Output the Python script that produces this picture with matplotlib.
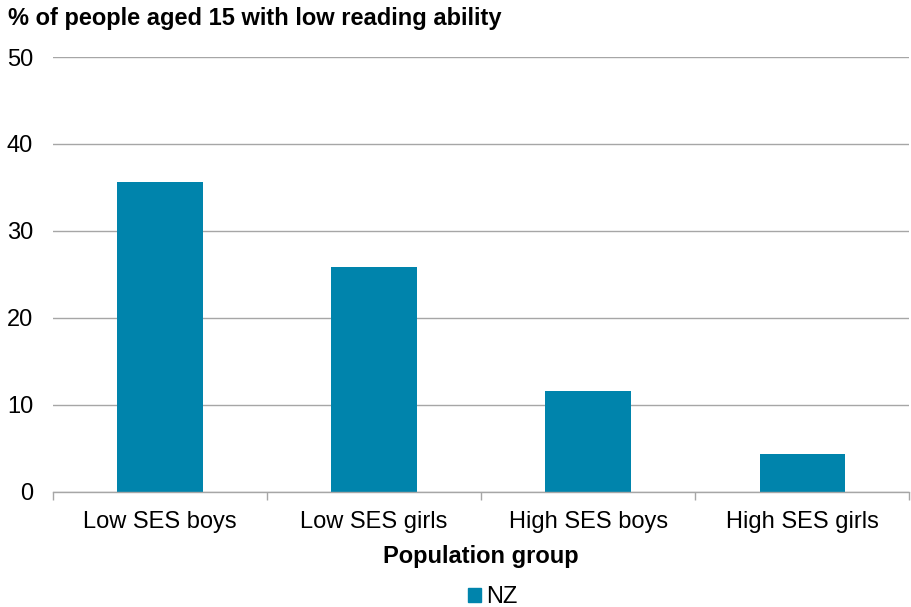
import matplotlib
matplotlib.use("Agg")
import matplotlib.pyplot as plt
import numpy as np
from matplotlib.patches import Rectangle

categories = ["Low SES boys", "Low SES girls", "High SES boys", "High SES girls"]
nz_values = [35.6, 25.8, 11.6, 4.3]
y_ticks = [0, 10, 20, 30, 40, 50]

plt.rcParams["font.family"] = ["Liberation Sans", "DejaVu Sans"]

bar_color = "#0084AC"
grid_color = "#A6A6A6"

fig = plt.figure(figsize=(9.11, 6.07), dpi=100)
ax = fig.add_axes([0.0582, 0.190, 0.940, 0.716])

x = np.arange(len(categories))
ax.bar(x, nz_values, width=0.40, color=bar_color, zorder=3, label="NZ")

ax.set_xlim(-0.5, len(categories) - 0.5)
ax.set_ylim(0, 50)
ax.set_yticks(y_ticks)
ax.set_yticklabels([str(t) for t in y_ticks], fontsize=17)
ax.yaxis.grid(True, color=grid_color, linewidth=1.0, zorder=0)
ax.tick_params(axis="y", length=0, pad=14.4)

# category labels centred, tick marks on category boundaries
ax.set_xticks(x)
ax.set_xticklabels(categories, fontsize=17)
ax.tick_params(axis="x", which="major", length=0, pad=14)
ax.set_xticks(np.arange(-0.5, len(categories)), minor=True)
ax.tick_params(axis="x", which="minor", length=6, color=grid_color, width=1.0)

for side in ["left", "right", "top"]:
    ax.spines[side].set_visible(False)
ax.spines["bottom"].set_color(grid_color)
ax.spines["bottom"].set_linewidth(1.0)
ax.spines["bottom"].set_zorder(4)

fig.text(8 / 911, 1 - 18 / 607, "% of people aged 15 with low reading ability",
         fontsize=17, fontweight="bold", ha="left", va="center")
ax.set_xlabel("Population group", fontsize=17, fontweight="bold", labelpad=8.5)

leg = fig.legend(handles=[Rectangle((0, 0), 1, 1, color=bar_color)], labels=["NZ"],
                 loc="center", bbox_to_anchor=(493 / 911, 1 - 597 / 607),
                 frameon=False, fontsize=17, handlelength=0.55, handleheight=0.55,
                 handletextpad=0.2)

fig.savefig("out.png", dpi=100)
